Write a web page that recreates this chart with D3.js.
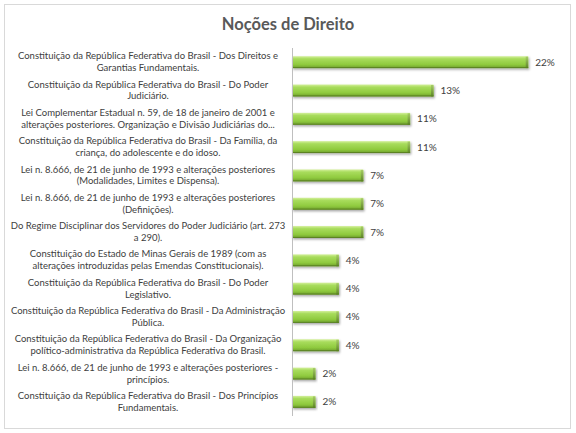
<!DOCTYPE html>
<html>
<head>
<meta charset="utf-8">
<script src="https://cdn.jsdelivr.net/npm/d3@7"></script>
<style>
  html, body { margin: 0; padding: 0; background: #fff; }
  svg { display: block; }
</style>
</head>
<body>
<div id="chart"></div>
<script>
// categories (one entry per bar, already split in the lines shown on the axis)
const categories = [
    ["Constituição da República Federativa do Brasil - Dos Direitos e", "Garantias Fundamentais."],
    ["Constituição da República Federativa do Brasil - Do Poder", "Judiciário."],
    ["Lei Complementar Estadual n. 59, de 18 de janeiro de 2001 e", "alterações posteriores. Organização e Divisão Judiciárias do..."],
    ["Constituição da República Federativa do Brasil - Da Família, da", "criança, do adolescente e do idoso."],
    ["Lei n. 8.666, de 21 de junho de 1993 e alterações posteriores", "(Modalidades, Limites e Dispensa)."],
    ["Lei n. 8.666, de 21 de junho de 1993 e alterações posteriores", "(Definições)."],
    ["Do Regime Disciplinar dos Servidores do Poder Judiciário (art. 273", "a 290)."],
    ["Constituição do Estado de Minas Gerais de 1989 (com as", "alterações introduzidas pelas Emendas Constitucionais)."],
    ["Constituição da República Federativa do Brasil - Do Poder", "Legislativo."],
    ["Constituição da República Federativa do Brasil - Da Administração", "Pública."],
    ["Constituição da República Federativa do Brasil - Da Organização", "político-administrativa da República Federativa do Brasil."],
    ["Lei n. 8.666, de 21 de junho de 1993 e alterações posteriores -", "princípios."],
    ["Constituição da República Federativa do Brasil - Dos Princípios", "Fundamentais."]
];

// share of questions per subject (%)
const values = [22.2, 13.3, 11.1, 11.1, 6.7, 6.7, 6.7, 4.4, 4.4, 4.4, 4.4, 2.2, 2.2];

// text shown next to each bar
const valueLabels = ["22%", "13%", "11%", "11%", "7%", "7%", "7%", "4%", "4%", "4%", "4%", "2%", "2%"];

const title = "Noções de Direito";

const width = 576;
const height = 433;
const margin = { top: 48, right: 18, bottom: 17, left: 292 };

const svg = d3.select("#chart")
    .append("svg")
    .attr("width", width)
    .attr("height", height);

// chart frame
svg.append("rect")
    .attr("x", 4.5)
    .attr("y", 4.5)
    .attr("width", 566)
    .attr("height", 424)
    .attr("fill", "#fff")
    .attr("stroke", "#d9d9d9");

svg.append("text")
    .attr("x", 288)
    .attr("y", 30)
    .attr("text-anchor", "middle")
    .attr("font-family", "Lato, 'Open Sans', sans-serif")
    .attr("font-weight", "bold")
    .attr("font-size", "16.5px")
    .attr("fill", "#595959")
    .text(title);

const x = d3.scaleLinear()
    .domain([0, 25])
    .range([margin.left, width - margin.right]);

const y = d3.scaleBand()
    .domain(d3.range(categories.length))
    .range([margin.top, height - margin.bottom])
    .paddingInner(0.58)
    .paddingOuter(0.29);

// gradients for the bevelled bars
const defs = svg.append("defs");

const faceGrad = defs.append("linearGradient")
    .attr("id", "face")
    .attr("x1", 0).attr("y1", 0).attr("x2", 0).attr("y2", 1);
faceGrad.append("stop").attr("offset", "0%").attr("stop-color", "#d4f09c");
faceGrad.append("stop").attr("offset", "22%").attr("stop-color", "#a8dc5c");
faceGrad.append("stop").attr("offset", "70%").attr("stop-color", "#8fca3e");
faceGrad.append("stop").attr("offset", "100%").attr("stop-color", "#6e9e2c");

const capGrad = defs.append("linearGradient")
    .attr("id", "cap")
    .attr("x1", 0).attr("y1", 0).attr("x2", 0).attr("y2", 1);
capGrad.append("stop").attr("offset", "0%").attr("stop-color", "#a6cc66");
capGrad.append("stop").attr("offset", "100%").attr("stop-color", "#5d8526");

const shadow = defs.append("filter")
    .attr("id", "shadow")
    .attr("x", "-5%").attr("y", "-30%")
    .attr("width", "115%").attr("height", "180%");
shadow.append("feDropShadow")
    .attr("dx", 1)
    .attr("dy", 1.5)
    .attr("stdDeviation", 1)
    .attr("flood-color", "#000")
    .attr("flood-opacity", 0.35);

// bars
const bars = svg.append("g")
    .selectAll("g.bar")
    .data(values)
    .join("g")
    .attr("class", "bar")
    .attr("filter", "url(#shadow)");

bars.append("rect")
    .attr("x", x(0))
    .attr("y", (d, i) => y(i))
    .attr("width", d => x(d) - x(0))
    .attr("height", y.bandwidth())
    .attr("fill", "url(#face)");

// darker end of each bar
bars.append("rect")
    .attr("x", d => x(d) - 2.5)
    .attr("y", (d, i) => y(i) + 0.5)
    .attr("width", 2.5)
    .attr("height", y.bandwidth() - 0.5)
    .attr("fill", "url(#cap)");

bars.append("line")
    .attr("x1", x(0))
    .attr("x2", d => x(d))
    .attr("y1", (d, i) => y(i) + y.bandwidth() - 0.5)
    .attr("y2", (d, i) => y(i) + y.bandwidth() - 0.5)
    .attr("stroke", "#5b8224")
    .attr("stroke-width", 1);

// value labels
svg.append("g")
    .selectAll("text")
    .data(values)
    .join("text")
    .attr("x", d => x(d) + 7)
    .attr("y", (d, i) => y(i) + y.bandwidth() / 2)
    .attr("dy", "0.35em")
    .attr("font-family", "Lato, 'Open Sans', sans-serif")
    .attr("font-size", "10px")
    .attr("fill", "#404040")
    .text((d, i) => valueLabels[i]);

// vertical axis, line only
const axis = svg.append("g")
    .attr("transform", `translate(${margin.left},0)`)
    .call(d3.axisLeft(y).tickSize(0).tickFormat(""));
axis.select(".domain")
    .attr("stroke", "#bfbfbf")
    .attr("d", `M0.5,${margin.top}V${height - margin.bottom}`);

// category labels, two lines centred in the label area
const labels = svg.append("g")
    .selectAll("text")
    .data(categories)
    .join("text")
    .attr("x", 148)
    .attr("y", (d, i) => y(i) + y.bandwidth() / 2)
    .attr("text-anchor", "middle")
    .attr("font-family", "Lato, 'Open Sans', sans-serif")
    .attr("font-size", "9.5px")
    .attr("fill", "#404040");

labels.selectAll("tspan")
    .data(d => d)
    .join("tspan")
    .attr("x", 148)
    .attr("dy", (d, j) => j === 0 ? "-0.3em" : "1.25em")
    .text(d => d);
</script>
</body>
</html>
